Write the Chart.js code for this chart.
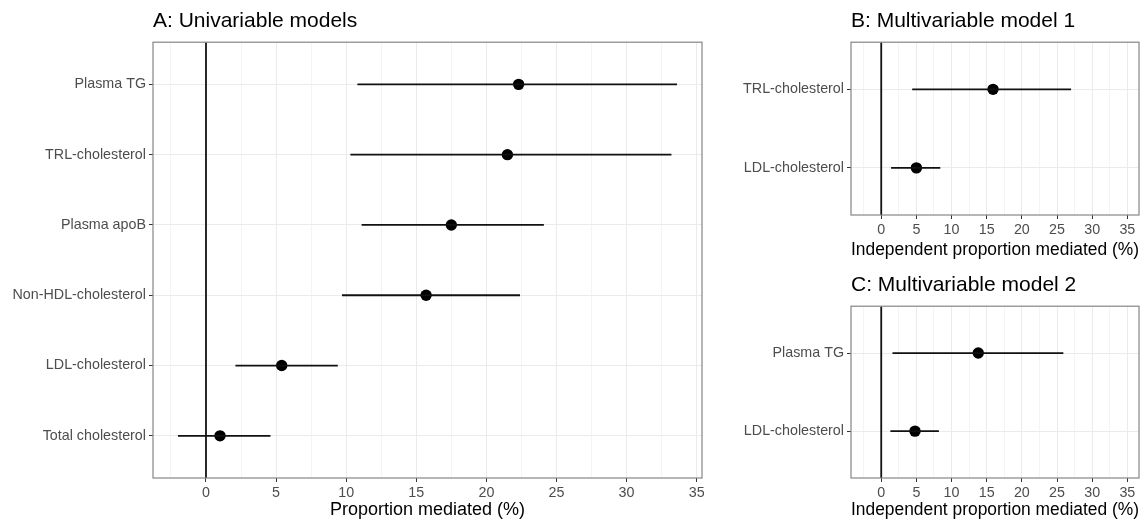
<!DOCTYPE html>
<html>
<head>
<meta charset="utf-8">
<script src="https://cdn.jsdelivr.net/npm/chart.js@4.4.1/dist/chart.umd.min.js"></script>
<style>
  html, body { margin: 0; padding: 0; background: #fff; }
  #wrap { position: relative; width: 1146px; height: 522px; overflow: hidden; }
  .panel { position: absolute; }
</style>
</head>
<body>
<div id="wrap">
  <div class="panel" style="left:0;top:0;width:712px;height:522px"><canvas id="chart-a"></canvas></div>
  <div class="panel" style="left:712px;top:0;width:434px;height:262px"><canvas id="chart-b"></canvas></div>
  <div class="panel" style="left:712px;top:262px;width:434px;height:260px"><canvas id="chart-c"></canvas></div>
</div>
<script>
"use strict";

/* ── Data (top row first) ────────────────────────────────── */
const labelsA = ['Plasma TG', 'TRL-cholesterol', 'Plasma apoB', 'Non-HDL-cholesterol', 'LDL-cholesterol', 'Total cholesterol'];
const estA    = [22.3, 21.5, 17.5, 15.7, 5.4, 1.0];
const lowA    = [10.8, 10.3, 11.1, 9.7, 2.1, -2.0];
const highA   = [33.6, 33.2, 24.1, 22.4, 9.4, 4.6];

const labelsB = ['TRL-cholesterol', 'LDL-cholesterol'];
const estB    = [15.9, 5.0];
const lowB    = [4.4, 1.4];
const highB   = [27.0, 8.4];

const labelsC = ['Plasma TG', 'LDL-cholesterol'];
const estC    = [13.8, 4.8];
const lowC    = [1.6, 1.3];
const highC   = [25.9, 8.2];

const xTicks = [0, 5, 10, 15, 20, 25, 30, 35];

/* ── Theme (ggplot theme_bw look) ────────────────────────── */
const INK      = '#111111';
const GRID_MAJ = '#ebebeb';
const GRID_MIN = '#f4f4f4';
const BORDER   = '#858585';
const TICK_TXT = '#4d4d4d';
const FONT     = '"Liberation Sans", Arial, sans-serif';

/** Draw the full panel border on top of the plot. */
const panelBorder = {
  id: 'panelBorder',
  afterDraw(chart) {
    const { ctx, chartArea: a } = chart;
    ctx.save();
    ctx.strokeStyle = BORDER;
    ctx.lineWidth = 1.2;
    ctx.strokeRect(a.left, a.top, a.right - a.left, a.bottom - a.top);
    ctx.restore();
  },
};

/**
 * Build one forest-plot panel.
 * @param {string} id canvas id
 * @param {object} cfg labels/values plus layout box
 */
function forest(id, cfg) {
  const n = cfg.labels.length;
  const yOf = i => n - i;           // first label at the top
  const yMin = 0.4, yMax = n + 0.6;

  const bars = cfg.labels.map((_, i) => ({
    type: 'line',
    data: [{ x: cfg.low[i], y: yOf(i) }, { x: cfg.high[i], y: yOf(i) }],
    borderColor: INK,
    borderWidth: 1.8,
    pointRadius: 0,
  }));

  return new Chart(document.getElementById(id), {
    type: 'scatter',
    data: {
      datasets: [
        {
          type: 'line',
          data: [{ x: 0, y: yMin }, { x: 0, y: yMax }],
          borderColor: INK,
          borderWidth: 1.8,
          pointRadius: 0,
        },
        ...bars,
        {
          data: cfg.est.map((v, i) => ({ x: v, y: yOf(i) })),
          pointRadius: 5.7,
          pointBackgroundColor: '#000',
          pointBorderWidth: 0,
        },
      ],
    },
    options: {
      responsive: true,
      maintainAspectRatio: false,
      animation: false,
      events: [],
      layout: { padding: { left: 0, right: cfg.padRight, top: 0, bottom: 0 } },
      plugins: {
        legend: { display: false },
        tooltip: { enabled: false },
        title: {
          display: true,
          text: cfg.title,
          align: 'start',
          fullSize: false,
          color: '#000',
          font: { family: FONT, size: 21, weight: 'normal' },
          padding: { top: cfg.titleTop, bottom: 8 },
        },
      },
      scales: {
        x: {
          type: 'linear',
          min: cfg.xMin,
          max: cfg.xMax,
          afterFit: s => { s.height = cfg.xAxisH; },
          afterBuildTicks: s => {
            const t = [];
            for (let v = -2.5; v <= cfg.xMax; v += 2.5) if (v >= cfg.xMin) t.push({ value: v });
            s.ticks = t;
          },
          ticks: {
            color: TICK_TXT,
            font: { family: FONT, size: 14.3 },
            padding: 2,
            maxRotation: 0,
            autoSkip: false,
            callback: v => (xTicks.includes(v) ? String(v) : ''),
          },
          grid: {
            color: c => (c.tick && c.tick.value % 5 === 0 ? GRID_MAJ : GRID_MIN),
            tickColor: c => (c.tick && c.tick.value % 5 === 0 ? '#333' : 'rgba(0,0,0,0)'),
            tickLength: 4,
            lineWidth: 1,
          },
          border: { display: false },
          title: {
            display: true,
            text: cfg.xTitle,
            color: '#000',
            font: { family: FONT, size: cfg.xTitleSize },
            padding: { top: 0, bottom: 1 },
          },
        },
        y: {
          type: 'linear',
          min: yMin,
          max: yMax,
          afterFit: s => { s.width = cfg.yAxisW; },
          afterBuildTicks: s => {
            s.ticks = cfg.labels.map((_, i) => ({ value: yOf(i) }));
          },
          ticks: {
            color: TICK_TXT,
            font: { family: FONT, size: 14.3 },
            padding: 3,
            autoSkip: false,
            callback: v => cfg.labels[n - v] ?? '',
          },
          grid: { color: GRID_MAJ, tickColor: '#333', tickLength: 4, lineWidth: 1 },
          border: { display: false },
        },
      },
    },
    plugins: [panelBorder],
  });
}

forest('chart-a', {
  labels: labelsA, est: estA, low: lowA, high: highA,
  title: 'A: Univariable models', xTitle: 'Proportion mediated (%)', xTitleSize: 18,
  xMin: -3.78, xMax: 35.38, yAxisW: 153, padRight: 10, xAxisH: 44, titleTop: 9,
});

forest('chart-b', {
  labels: labelsB, est: estB, low: lowB, high: highB,
  title: 'B: Multivariable model 1', xTitle: 'Independent proportion mediated (%)', xTitleSize: 17.5,
  xMin: -4.3, xMax: 36.66, yAxisW: 139, padRight: 7, xAxisH: 47, titleTop: 9,
});

forest('chart-c', {
  labels: labelsC, est: estC, low: lowC, high: highC,
  title: 'C: Multivariable model 2', xTitle: 'Independent proportion mediated (%)', xTitleSize: 17.5,
  xMin: -4.3, xMax: 36.66, yAxisW: 139, padRight: 7, xAxisH: 44, titleTop: 11,
});
</script>
</body>
</html>
